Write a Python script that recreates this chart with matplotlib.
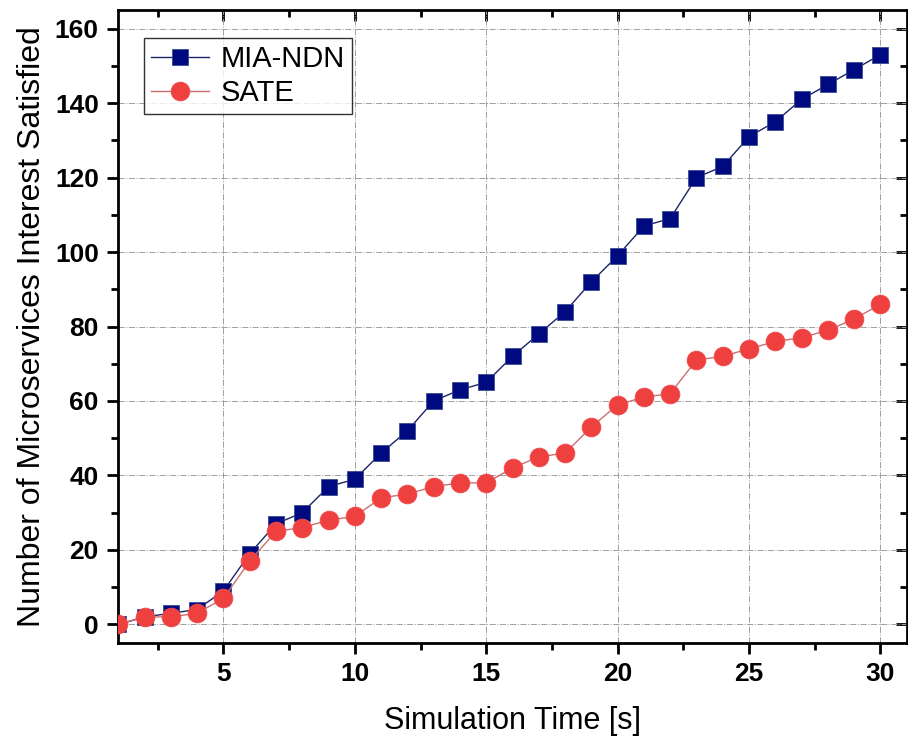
import matplotlib
matplotlib.use("Agg")
import matplotlib.pyplot as plt
from matplotlib.ticker import MultipleLocator

time_s = list(range(1, 31))
mia_ndn = [0, 2, 3, 4, 9, 19, 27, 30, 37, 39, 46, 52, 60, 63, 65,
           72, 78, 84, 92, 99, 107, 109, 120, 123, 131, 135, 141, 145, 149, 153]
sate = [0, 2, 2, 3, 7, 17, 25, 26, 28, 29, 34, 35, 37, 38, 38,
        42, 45, 46, 53, 59, 61, 62, 71, 72, 74, 76, 77, 79, 82, 86]

plt.rcParams['font.family'] = ['Liberation Sans', 'DejaVu Sans']

fig = plt.figure(figsize=(9.08, 7.47), dpi=100)
ax = fig.add_axes([0.1303, 0.1392, 0.8683, 0.8474])

ax.plot(time_s, mia_ndn, color="#1a2466", lw=1.0, marker="s", ms=11.5,
        mfc="#000a80", mec="#3a4a90", mew=0.6, label="MIA-NDN", zorder=3)
ax.plot(time_s, sate, color="#c87070", lw=1.0, marker="o", ms=13.5,
        mfc="#ef4040", mec="#ef4a4a", mew=0.6, label="SATE", zorder=3)

ax.set_xlim(1, 31)
ax.set_ylim(-5, 165)
ax.xaxis.set_major_locator(MultipleLocator(5))
ax.xaxis.set_minor_locator(MultipleLocator(2.5))
ax.yaxis.set_major_locator(MultipleLocator(20))
ax.yaxis.set_minor_locator(MultipleLocator(10))

ax.grid(True, which="major", color="#a0a0a0", ls="-.", lw=0.7)
ax.set_axisbelow(True)

for s in ax.spines.values():
    s.set_linewidth(2.0)

ax.tick_params(which="both", direction="out", width=2.0,
               labelsize=19, pad=6, top=False, right=False)
ax.tick_params(which="major", length=8)
ax.tick_params(which="minor", length=5)
for lab in ax.get_xticklabels() + ax.get_yticklabels():
    lab.set_fontweight("bold")

# inward ticks on the top and right frame
ax2 = ax.secondary_xaxis("top")
ax2.xaxis.set_major_locator(MultipleLocator(5))
ax2.xaxis.set_minor_locator(MultipleLocator(2.5))
ax2.tick_params(which="both", direction="in", width=2.0, labeltop=False)
ax2.tick_params(which="major", length=8)
ax2.tick_params(which="minor", length=5)
ax3 = ax.secondary_yaxis("right")
ax3.yaxis.set_major_locator(MultipleLocator(20))
ax3.yaxis.set_minor_locator(MultipleLocator(10))
ax3.tick_params(which="both", direction="in", width=2.0, labelright=False)
ax3.tick_params(which="major", length=8)
ax3.tick_params(which="minor", length=5)

ax.set_xlabel("Simulation Time [s]", fontsize=22, labelpad=14)
ax.set_ylabel("Number of Microservices Interest Satisfied", fontsize=23, labelpad=6)

leg = ax.legend(loc="upper left", bbox_to_anchor=(0.032, 0.956), fontsize=21,
                frameon=True, fancybox=False, edgecolor="black",
                borderaxespad=0, handlelength=2.0, borderpad=0.25,
                labelspacing=0.2, handletextpad=0.4)
leg.get_frame().set_linewidth(1.0)

fig.savefig("out.png", dpi=100)
